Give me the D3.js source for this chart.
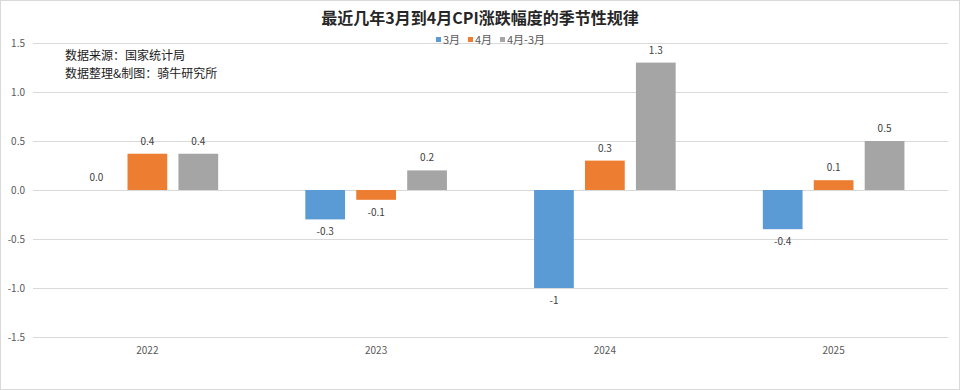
<!DOCTYPE html>
<html><head><meta charset="utf-8">
<script src="https://cdn.jsdelivr.net/npm/d3@7"></script>
<style>body{margin:0;background:#fff;}svg{display:block;}</style>
</head><body>
<svg id="c" width="960" height="390"></svg>
<script>
const categories = ["2022","2023","2024","2025"];
const seriesNames = ["3月","4月","4月-3月"];
const march = [0.0, -0.3, -1.0, -0.4];
const april = [0.37, -0.1, 0.3, 0.1];
const diff = [0.37, 0.2, 1.3, 0.5];
const marchLabels = ["0.0","-0.3","-1","-0.4"];
const aprilLabels = ["0.4","-0.1","0.3","0.1"];
const diffLabels = ["0.4","0.2","1.3","0.5"];
const yTicks = [1.5,1.0,0.5,0.0,-0.5,-1.0,-1.5];
const colors = ["#5b9bd5","#ed7d31","#a5a5a5"];

const values = [march, april, diff];
const labels = [marchLabels, aprilLabels, diffLabels];

const svg = d3.select("#c");
const font = "'Microsoft YaHei','Noto Sans CJK SC','Noto Sans',sans-serif";

svg.append("rect").attr("x",0.5).attr("y",0.5).attr("width",959).attr("height",389)
  .attr("fill","#fff").attr("stroke","#d9d9d9");

const x = d3.scaleBand().domain(categories).range([33,948]).paddingInner(0.332).paddingOuter(0.166);
const xs = d3.scaleBand().domain(d3.range(3)).range([0,x.bandwidth()]).paddingInner(0.22).paddingOuter(0.11);
const y = d3.scaleLinear().domain([-1.5,1.5]).range([337,43]);

// gridlines
svg.append("g").selectAll("line").data(yTicks).join("line")
  .attr("x1",33).attr("x2",948).attr("y1",d=>Math.round(y(d))+0.5).attr("y2",d=>Math.round(y(d))+0.5)
  .attr("stroke","#d9d9d9").attr("stroke-width",1);

// y tick labels
svg.append("g").selectAll("text").data(yTicks).join("text")
  .attr("x",25).attr("y",d=>y(d)+3.5).attr("text-anchor","end")
  .attr("font-family",font).attr("font-size",10).attr("fill","#595959")
  .text(d=>d3.format(".1f")(d).replace("−","-"));

// x labels
svg.append("g").selectAll("text").data(categories).join("text")
  .attr("x",d=>x(d)+x.bandwidth()/2).attr("y",354).attr("text-anchor","middle")
  .attr("font-family",font).attr("font-size",10).attr("fill","#595959").text(d=>d);

// bars
seriesNames.forEach((s,si)=>{
  const g = svg.append("g");
  g.selectAll("rect").data(categories).join("rect")
    .attr("x",(c)=>x(c)+xs(si))
    .attr("width",xs.bandwidth())
    .attr("y",(c,i)=>y(Math.max(0,values[si][i])))
    .attr("height",(c,i)=>Math.abs(y(values[si][i])-y(0)))
    .attr("fill",colors[si]);
  g.selectAll("text").data(categories).join("text")
    .attr("x",(c)=>x(c)+xs(si)+xs.bandwidth()/2)
    .attr("y",(c,i)=>{const v=values[si][i]; return v>=0 ? y(v)-9 : y(v)+16;})
    .attr("text-anchor","middle").attr("font-family",font).attr("font-size",10).attr("fill","#404040")
    .text((c,i)=>labels[si][i]);
});

// title
svg.append("text").attr("x",480).attr("y",24).attr("text-anchor","middle")
  .attr("font-family",font).attr("font-size",16).attr("font-weight","bold").attr("fill","#262626")
  .text("最近几年3月到4月CPI涨跌幅度的季节性规律");

// legend
const lx = [436,468,500];
seriesNames.forEach((s,i)=>{
  svg.append("rect").attr("x",lx[i]).attr("y",37).attr("width",5).attr("height",5).attr("fill",colors[i]);
  svg.append("text").attr("x",lx[i]+7).attr("y",44).attr("font-family",font).attr("font-size",11)
    .attr("fill","#595959").text(s);
});

// source
svg.append("text").attr("x",65).attr("y",60).attr("font-family",font).attr("font-size",12).attr("fill","#1a1a1a").text("数据来源：国家统计局");
svg.append("text").attr("x",65).attr("y",78).attr("font-family",font).attr("font-size",12).attr("fill","#1a1a1a").text("数据整理&制图：骑牛研究所");
</script>
</body></html>
